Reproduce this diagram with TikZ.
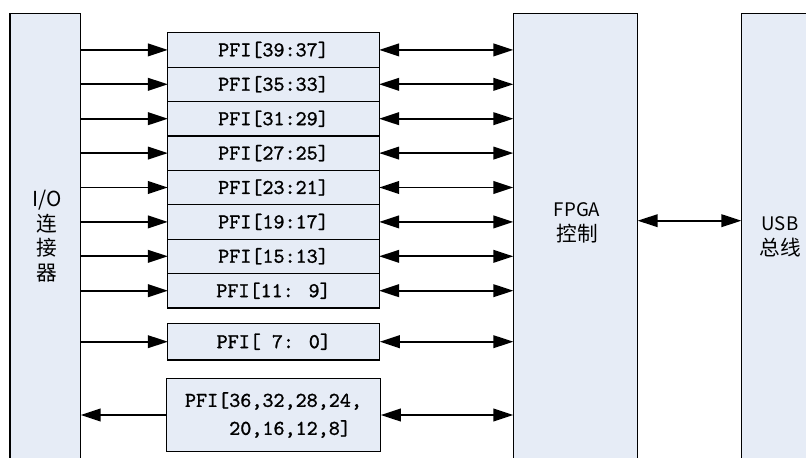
\documentclass[tikz,border=0pt]{standalone}
\usepackage{fontspec}
\newfontfamily\cjk{Noto Sans CJK SC}
\newfontfamily\pfifont{lmmono10-regular.otf}[FakeBold=1.2]
\usetikzlibrary{arrows.meta,positioning}
\definecolor{boxfill}{HTML}{E6ECF6}

\begin{document}
\begin{tikzpicture}[x=0.75pt, y=-0.75pt, >={Triangle[length=15pt,width=9.5pt]}]
% --- Global Styles ---
\tikzstyle{block} = [draw, line width=0.9pt, fill=boxfill, inner sep=0pt, outer sep=0pt]
\tikzstyle{tall} = [block, anchor=north west, minimum height=345pt]
\tikzstyle{pfi} = [block, minimum width=158.5pt, minimum height=25.8pt,
                   font=\pfifont\fontsize{15.8}{21}\selectfont]
\tikzstyle{cjktext} = [align=center, font=\cjk\fontsize{15.5}{18.5}\selectfont]
\tikzstyle{sig} = [line width=1.4pt]

% --- Frame ---
\useasboundingbox (0,0) rectangle (806,457);
\clip (0,0) rectangle (806,457);

% ==========================================
% TALL BLOCKS (cut off at the bottom)
% ==========================================
\node[tall, minimum width=53pt] (io) at (10,13.3) {};
\node[tall, minimum width=93.3pt] (fpga) at (513.3,13.3) {};
\node[tall, minimum width=80pt] (usb) at (741.3,13.3) {};

\node[cjktext] (iotext) at (47,236) {I/O\\连\\接\\器};
\node[cjktext] (fpgatext) at (577,223) {{\fontsize{14}{18.5}\selectfont FPGA}\\控制};
\node[cjktext] (usbtext) at (780,237) {{\fontsize{14}{18.5}\selectfont USB}\\总线};

% ==========================================
% PFI STACK
% ==========================================
\foreach \lab [count=\i] in {PFI[39:37], PFI[35:33], PFI[31:29], PFI[27:25],
                             PFI[23:21], PFI[19:17], PFI[15:13], PFI[11: 9]}
{
  \node[pfi] (p\i) at (273.5, 49.9+34.4*\i-34.4) {\lab};
  \draw[sig, ->] (io.east |- p\i.west) -- (p\i.west);
  \draw[sig, <->] (p\i.east) -- (fpga.west |- p\i.east);
}

% Lower group
\node[pfi, minimum width=159pt, minimum height=27.5pt] (plow) at (273.8,341.7) {PFI[ 7: 0]};
\node[pfi, minimum width=161pt, minimum height=55pt, align=left] (pmux) at (273.5,415)
  {PFI[36,32,28,24,\\\phantom{PFI[}20,16,12,8]};

\draw[sig, ->] (io.east |- plow.west) -- (plow.west);
\draw[sig, <->] (plow.east) -- (fpga.west |- plow.east);
\draw[sig, <-] (io.east |- pmux.west) -- (pmux.west);
\draw[sig, <->] (pmux.east) -- (fpga.west |- pmux.east);

% ==========================================
% FPGA -- USB
% ==========================================
\coordinate (bus) at (0,220.7);
\draw[sig, <->] (fpga.east |- bus) -- (usb.west |- bus);

\end{tikzpicture}
\end{document}
